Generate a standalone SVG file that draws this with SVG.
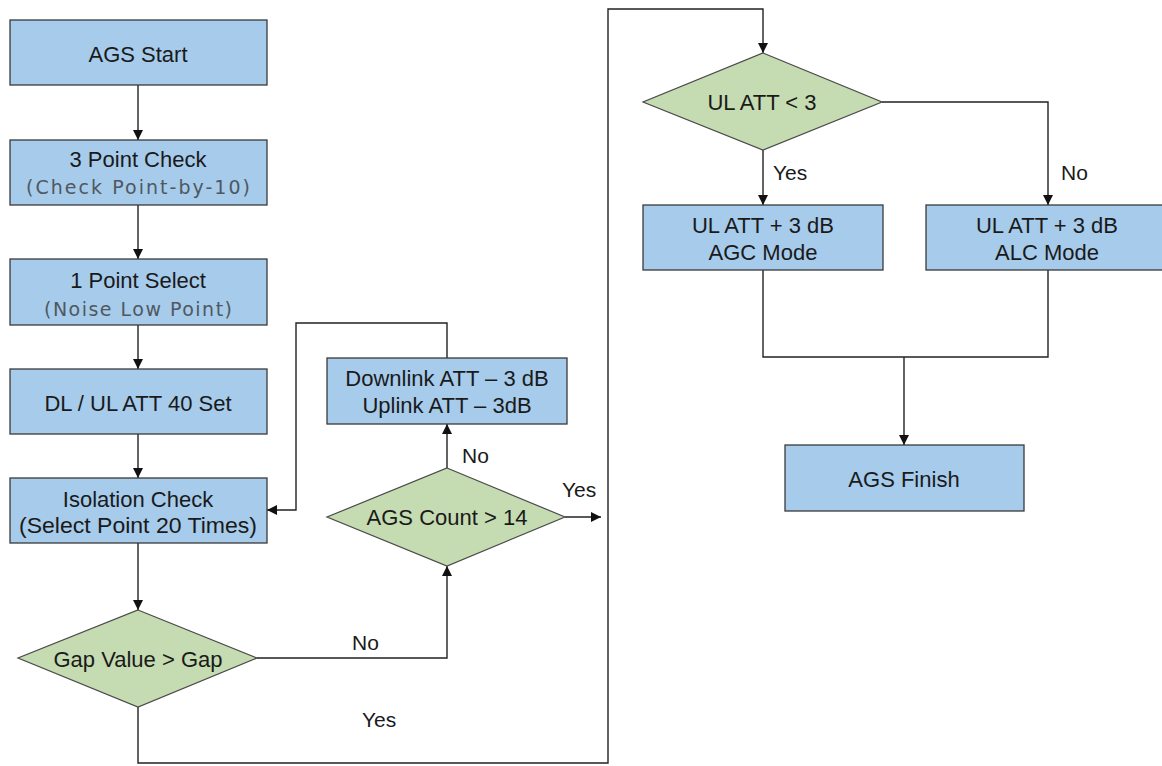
<svg xmlns="http://www.w3.org/2000/svg" width="1162" height="766" viewBox="0 0 1162 766">
<defs>
<style>
.box{fill:#a6cbeb;stroke:#3a3a3a;stroke-width:1.3}
.dia{fill:#c5dbb1;stroke:#4a4a4a;stroke-width:1.2}
.t{font-family:"Liberation Sans",Arial,sans-serif;font-size:22px;fill:#1a1a1a;text-anchor:middle}
.s{font-family:"DejaVu Sans","Liberation Sans",sans-serif;font-size:19px;fill:#505860;text-anchor:middle}
.lbl{font-family:"Liberation Sans",Arial,sans-serif;font-size:21px;fill:#1a1a1a}
.c{fill:none;stroke:#222;stroke-width:1.4}
</style>
<marker id="ah" viewBox="0 0 10 10" refX="10" refY="5" markerWidth="10" markerHeight="10" markerUnits="userSpaceOnUse" orient="auto">
<path d="M0,0 L10,5 L0,10 z" fill="#111"/>
</marker>
</defs>
<rect width="1162" height="766" fill="#ffffff"/>

<g id="connectors">
<path class="c" d="M138,85 V140" marker-end="url(#ah)"/>
<path class="c" d="M138,205 V259" marker-end="url(#ah)"/>
<path class="c" d="M138,325 V369" marker-end="url(#ah)"/>
<path class="c" d="M138,434 V478" marker-end="url(#ah)"/>
<path class="c" d="M138,543 V610" marker-end="url(#ah)"/>
<path class="c" d="M257,658 H447 V566" marker-end="url(#ah)"/>
<path class="c" d="M447,468 V424" marker-end="url(#ah)"/>
<path class="c" d="M447,358 V323 H296 V510 H267" marker-end="url(#ah)"/>
<path class="c" d="M565,517 H601" marker-end="url(#ah)"/>
<path class="c" d="M138,707 V763 H608 V9 H763 V53" marker-end="url(#ah)"/>
<path class="c" d="M763,150 V205" marker-end="url(#ah)"/>
<path class="c" d="M882,102 H1048 V205" marker-end="url(#ah)"/>
<path class="c" d="M763,270 V357 H1048 V270"/>
<path class="c" d="M904,357 V445" marker-end="url(#ah)"/>
<text class="lbl" x="352" y="650">No</text>
<text class="lbl" x="362" y="727">Yes</text>
<text class="lbl" x="462" y="463">No</text>
<text class="lbl" x="562" y="497">Yes</text>
<text class="lbl" x="773" y="180">Yes</text>
<text class="lbl" x="1061" y="180">No</text>
</g>

<g id="ags-start">
<rect class="box" x="10" y="20" width="257" height="65"/>
<text class="t" x="138" y="62">AGS Start</text>
</g>
<g id="three-point-check">
<rect class="box" x="10" y="140" width="257" height="65"/>
<text class="t" x="138" y="167">3 Point Check</text>
<text class="s" x="138" y="194" textLength="224" lengthAdjust="spacing">(Check Point-by-10)</text>
</g>
<g id="one-point-select">
<rect class="box" x="10" y="259" width="257" height="66"/>
<text class="t" x="138" y="288">1 Point Select</text>
<text class="s" x="138" y="316" textLength="188" lengthAdjust="spacing">(Noise Low Point)</text>
</g>
<g id="att-set">
<rect class="box" x="10" y="369" width="257" height="65"/>
<text class="t" x="138" y="411">DL / UL ATT 40 Set</text>
</g>
<g id="isolation-check">
<rect class="box" x="10" y="478" width="257" height="65"/>
<text class="t" x="138" y="507">Isolation Check</text>
<text class="t" x="138" y="533" textLength="238" lengthAdjust="spacingAndGlyphs">(Select Point 20 Times)</text>
</g>
<g id="gap-decision">
<polygon class="dia" points="138,610 257,658 138,707 18,658"/>
<text class="t" x="138" y="667">Gap Value &gt; Gap</text>
</g>
<g id="ags-count-decision">
<polygon class="dia" points="447,468 565,517 447,566 327,517"/>
<text class="t" x="447" y="525">AGS Count &gt; 14</text>
</g>
<g id="att-decrease">
<rect class="box" x="327" y="358" width="240" height="66"/>
<text class="t" x="447" y="386">Downlink ATT – 3 dB</text>
<text class="t" x="447" y="413">Uplink ATT – 3dB</text>
</g>
<g id="ul-att-decision">
<polygon class="dia" points="763,53 882,102 763,150 643,102"/>
<text class="t" x="762" y="110">UL ATT &lt; 3</text>
</g>
<g id="agc-mode">
<rect class="box" x="643" y="205" width="240" height="65"/>
<text class="t" x="763" y="233">UL ATT + 3 dB</text>
<text class="t" x="763" y="260">AGC Mode</text>
</g>
<g id="alc-mode">
<rect class="box" x="926" y="205" width="245" height="65"/>
<text class="t" x="1047" y="233">UL ATT + 3 dB</text>
<text class="t" x="1047" y="260">ALC Mode</text>
</g>
<g id="ags-finish">
<rect class="box" x="785" y="445" width="239" height="66"/>
<text class="t" x="904" y="487">AGS Finish</text>
</g>
</svg>
